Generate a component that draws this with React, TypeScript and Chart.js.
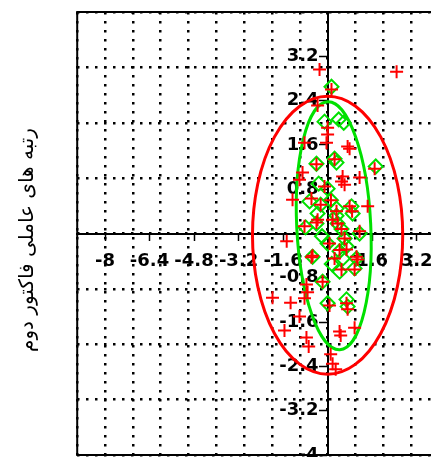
import { useEffect, useRef } from 'react';
import { Chart, registerables } from 'chart.js';

Chart.register(...registerables);

const xRange = [-9, 9];
const yRange = [-4, 4];
const xTickValues = [-8, -6.4, -4.8, -3.2, -1.6, 1.6, 3.2, 4.8, 6.4, 8];
const yTickValues = [-4, -3.2, -2.4, -1.6, -0.8, 0.8, 1.6, 2.4, 3.2];
const xGridValues = [-9, -8, -7, -6, -5, -4, -3, -2, -1, 0, 1, 2, 3, 4, 5, 6, 7, 8, 9];
const yGridValues = [-4, -3, -2, -1, 0, 1, 2, 3, 4];

const yTitle = 'رتبه های عاملی فاکتور دوم';

const redX = [
  -0.29, 2.48, 0.14, -0.36, 0.0, 0.0, -0.04, -0.83, 0.72, 0.79, 0.25, -0.4, 1.69, -0.9, -1.01,
  0.54, 0.5, 0.61, 1.15, -0.11, -1.26, -0.58, 1.44, 0.79, -0.83, -0.36, 0.18, 1.15, 0.36, -1.47,
  -0.58, 0.25, 1.08, 0.68, 0.07, 0.5, 0.97, -0.18, -0.76, -0.72, -0.83, -1.98, -1.33, 0.07, 0.68,
  0.72, -1.01, -1.55, -0.76, -0.68, 0.43, 0.47, 0.97, 0.11, 0.18, 0.29, 0.32, 0.88, -0.4, 0.43,
  0.61, 1.04, -0.54, -0.25, 0.12, 0.5,
];
const redY = [
  2.96, 2.92, 2.6, 2.31, 1.91, 1.79, 1.64, 1.64, 1.57, 1.53, 1.34, 1.25, 1.17, 1.1, 0.97,
  1.03, 0.94, 0.88, 1.01, 0.85, 0.61, 0.63, 0.49, 0.49, 0.13, 0.25, 0.25, 0.04, 0.18, -0.14,
  -0.43, -0.45, -0.47, -0.29, -0.18, -0.65, -0.65, -0.87, -0.92, -1.06, -1.17, -1.16, -1.25, -1.3, -1.26,
  -1.37, -1.5, -1.75, -1.88, -2.04, -1.77, -1.84, -1.7, -2.18, -2.35, -2.45, 0.4, 0.4, 0.2, -0.3,
  -0.09, -0.42, -0.4, 0.52, 0.6, 0.08,
];

const greenX = [
  0.14, -0.11, 0.4, 0.58, 0.25, 0.32, -0.4, 1.73, 0.0, -0.65, -0.36, -0.4, 0.32, 0.32, 0.86,
  0.9, 1.15, 0.61, 0.0, 0.68, 0.43, -0.54, 1.04, 0.43, 0.97, -0.18, 0.0, 0.68, 0.72, -0.79, 0.36,
  -0.25, 0.12, 0.5, -0.2, 0.15, 0.55, -0.32,
];
const greenY = [
  2.65, 2.02, 2.06, 2.0, 1.35, 1.28, 1.26, 1.21, 0.81, 0.58, 0.36, 0.18, 0.45, 0.32, 0.49,
  0.36, 0.0, -0.09, -0.18, -0.23, -0.32, -0.42, -0.45, -0.69, -0.63, -0.87, -1.26, -1.19, -1.32, 0.11, 0.18,
  0.52, 0.6, 0.08, -0.05, -0.55, -0.45, 0.9,
];

// centre x, centre y, semi-axis x, semi-axis y, tilt (degrees)
const redEllipse = [0.0, -0.03, 2.7, 2.51, 0];
const greenEllipse = [0.22, 0.14, 1.33, 2.24, -2.8];

const RED = '#ff0000';
const GREEN = '#00e000';

const tickFont = { family: 'DejaVu Sans', size: 18, weight: 'bold' as const };

const framePlugin = {
  id: 'frame',
  beforeDatasetsDraw(chart: any) {
    const { ctx, chartArea } = chart;
    ctx.save();
    ctx.strokeStyle = '#000';
    ctx.lineWidth = 2;
    ctx.strokeRect(chartArea.left, chartArea.top, chartArea.right - chartArea.left, chartArea.bottom - chartArea.top);
    ctx.restore();
  },
};

const ellipsePlugin = {
  id: 'ellipses',
  beforeDatasetsDraw(chart: any) {
    const { ctx, chartArea } = chart;
    const xs = chart.scales.x;
    const ys = chart.scales.y;
    const list: [number[], string][] = [
      [greenEllipse, GREEN],
      [redEllipse, RED],
    ];
    ctx.save();
    ctx.beginPath();
    ctx.rect(chartArea.left, chartArea.top, chartArea.right - chartArea.left, chartArea.bottom - chartArea.top);
    ctx.clip();
    for (const [e, color] of list) {
      const [cx, cy, rx, ry, tilt] = e;
      const px = xs.getPixelForValue(cx);
      const py = ys.getPixelForValue(cy);
      const prx = Math.abs(xs.getPixelForValue(cx + rx) - px);
      const pry = Math.abs(ys.getPixelForValue(cy + ry) - py);
      ctx.beginPath();
      ctx.ellipse(px, py, prx, pry, (tilt * Math.PI) / 180, 0, Math.PI * 2);
      ctx.lineWidth = 3;
      ctx.strokeStyle = color;
      ctx.stroke();
    }
    ctx.restore();
  },
};

export default function App() {
  const ref = useRef<HTMLCanvasElement | null>(null);

  useEffect(() => {
    if (!ref.current) return;
    const chart = new Chart(ref.current, {
      type: 'scatter',
      data: {
        datasets: [
          {
            label: 'red',
            data: redX.map((x, i) => ({ x, y: redY[i] })),
            xAxisID: 'x',
            yAxisID: 'y',
            pointStyle: 'cross',
            pointRadius: 6.5,
            pointBorderWidth: 2,
            pointBorderColor: RED,
            pointBackgroundColor: RED,
            borderColor: RED,
            backgroundColor: RED,
            showLine: false,
          },
          {
            label: 'green',
            data: greenX.map((x, i) => ({ x, y: greenY[i] })),
            xAxisID: 'x',
            yAxisID: 'y',
            pointStyle: 'rectRot',
            pointRadius: 7,
            pointBorderWidth: 2,
            pointBorderColor: GREEN,
            pointBackgroundColor: 'rgba(0,0,0,0)',
            borderColor: GREEN,
            backgroundColor: 'rgba(0,0,0,0)',
            showLine: false,
          },
        ],
      },
      options: {
        animation: false,
        responsive: true,
        maintainAspectRatio: false,
        events: [],
        layout: { padding: { left: 10, top: 30, right: 10, bottom: 30 } },
        plugins: {
          legend: { display: false },
          tooltip: { enabled: false },
          title: {
            display: true,
            text: yTitle,
            position: 'left',
            color: '#000',
            font: { family: 'DejaVu Sans', size: 20, weight: 'normal', lineHeight: 1.2 },
            padding: { top: 5.6, bottom: 37.6 },
          },
        },
        scales: {
          x: {
            type: 'linear',
            axis: 'x',
            min: xRange[0],
            max: xRange[1],
            position: { y: 0 } as any,
            afterBuildTicks: (s: any) => {
              s.ticks = xTickValues.map((v) => ({ value: v }));
            },
            ticks: {
              autoSkip: false,
              maxRotation: 0,
              padding: 11,
              color: '#000',
              font: tickFont,
              callback: (v: any) => String(v),
            },
            grid: {
              display: true,
              drawOnChartArea: false,
              drawTicks: true,
              tickLength: 6,
              tickWidth: 1.5,
              tickColor: '#000',
            },
            border: { display: true, color: '#000', width: 2 },
          },
          y: {
            type: 'linear',
            axis: 'y',
            min: yRange[0],
            max: yRange[1],
            position: { x: 0 } as any,
            afterBuildTicks: (s: any) => {
              s.ticks = yTickValues.map((v) => ({ value: v }));
            },
            ticks: {
              autoSkip: false,
              padding: 2,
              color: '#000',
              font: tickFont,
              // en space keeps the right-aligned label clear of the tick mark
              callback: (v: any) => String(v) + '\u2002',
            },
            grid: {
              display: true,
              drawOnChartArea: false,
              drawTicks: true,
              tickLength: 8,
              tickWidth: 1.5,
              tickColor: '#000',
            },
            border: { display: true, color: '#000', width: 2 },
          },
          gx: {
            type: 'linear',
            axis: 'x',
            min: xRange[0],
            max: xRange[1],
            position: 'bottom',
            afterBuildTicks: (s: any) => {
              s.ticks = xGridValues.map((v) => ({ value: v }));
            },
            ticks: { display: false },
            grid: {
              display: true,
              drawOnChartArea: true,
              color: '#000',
              lineWidth: 2.5,
              drawTicks: true,
              tickLength: 13,
              tickColor: 'rgba(0,0,0,0)',
            },
            border: { display: false, dash: [2.5, 6.5] },
          },
          gy: {
            type: 'linear',
            axis: 'y',
            min: yRange[0],
            max: yRange[1],
            position: 'left',
            afterBuildTicks: (s: any) => {
              s.ticks = yGridValues.map((v) => ({ value: v }));
            },
            ticks: { display: false },
            grid: {
              display: true,
              drawOnChartArea: true,
              color: '#000',
              lineWidth: 2.5,
              drawTicks: false,
            },
            border: { display: false, dash: [2.5, 6.5] },
          },
        },
      } as any,
      plugins: [framePlugin, ellipsePlugin],
    });
    return () => chart.destroy();
  }, []);

  return (
    <div
      style={{
        position: 'fixed',
        left: 0,
        top: 0,
        width: 431,
        height: 457,
        overflow: 'hidden',
        background: '#fff',
      }}
    >
      <div style={{ position: 'absolute', left: 0, top: -18, width: 588, height: 516 }}>
        <canvas ref={ref} />
      </div>
    </div>
  );
}
